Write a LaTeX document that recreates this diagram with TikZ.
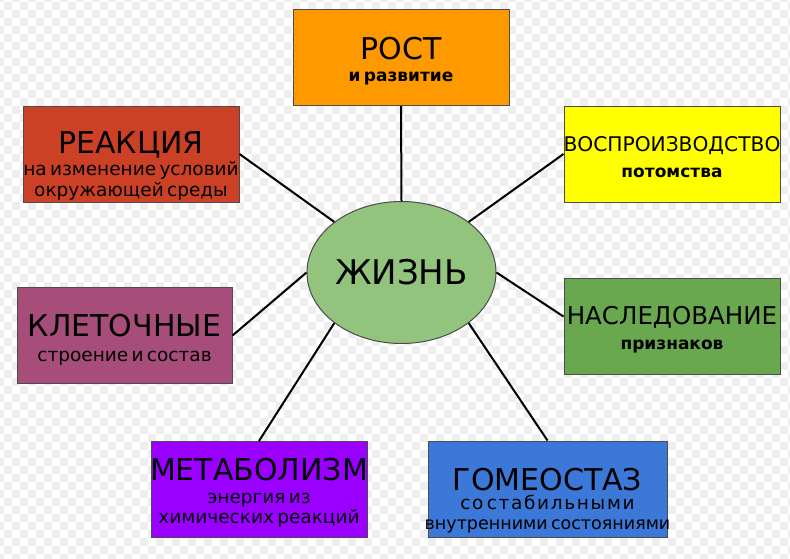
\documentclass[tikz,border=0pt]{standalone}
\usepackage{fontspec}
\setmainfont{DejaVu Sans}
\usetikzlibrary{shapes.geometric}

\definecolor{checkergray}{HTML}{EEEEEE}
\definecolor{lifegreen}{HTML}{93C47D}
\definecolor{growthorange}{HTML}{FF9900}
\definecolor{reactionred}{HTML}{CC4125}
\definecolor{reproductionyellow}{HTML}{FFFF00}
\definecolor{hereditygreen}{HTML}{6AA84F}
\definecolor{cellsmagenta}{HTML}{A64D79}
\definecolor{metabolismviolet}{HTML}{9900FF}
\definecolor{homeostasisblue}{HTML}{3C78D8}

\newcommand{\bigtitle}{\fontsize{30}{32}\selectfont}
\newcommand{\smalltext}{\fontsize{18.5}{21}\selectfont}
\newcommand{\smallbold}{\fontsize{17}{21}\selectfont\bfseries}
\newcommand{\wideline}[1]{\makebox[0pt]{#1}}

\begin{document}
\begin{tikzpicture}[x=1pt, y=-1pt]
    \tikzstyle{trait box} = [rectangle,draw=black!70,line width=1pt,inner sep=0pt,minimum width=216pt,minimum height=96pt,text width=216pt,align=center]
    \tikzstyle{life ellipse} = [ellipse,draw=black!70,line width=1pt,fill=lifegreen,inner sep=0pt,minimum width=189pt,minimum height=142pt]
    \tikzstyle{trait edge} = [draw=black, line width=2pt]
\useasboundingbox (0,0) rectangle (790,558);
\fill[white] (0,0) rectangle (790,558);
\foreach \row in {0,...,70} {
    \pgfmathsetmacro{\shift}{mod(\row,2)}
    \foreach \col in {0,2,...,98}
        \fill[checkergray] ({-4+8*(\col+\shift)},{-6+8*\row}) rectangle +(8,8);
}
\node[life ellipse] (life) at (401.5, 272.5) {\fontsize{34}{34}\selectfont ЖИЗНЬ};
\node[trait box, fill=growthorange] (growth) at (401, 57.5) {\rule{0pt}{29pt}\bigtitle РОСТ\\[1pt] \smallbold и развитие\par};
\node[trait box, fill=reactionred] (reaction) at (131, 154) {\rule{0pt}{46pt}\bigtitle РЕАКЦИЯ\\[1pt] \smalltext \wideline{на изменение условий}\\ окружающей среды\par};
\node[trait box, fill=reproductionyellow] (reproduction) at (672, 154) {\rule{0pt}{21.6pt}\fontsize{20.2}{24}\selectfont \wideline{ВОСПРОИЗВОДСТВО}\\[5pt] \smallbold потомства\par};
\node[trait box, fill=hereditygreen] (heredity) at (672, 326) {\rule{0pt}{26pt}\fontsize{24.5}{26}\selectfont \wideline{НАСЛЕДОВАНИЕ}\\[4pt] \smallbold признаков\par};
\node[trait box, fill=cellsmagenta, minimum width=215pt, text width=215pt] (cells) at (124.5, 335.5) {\rule{0pt}{30pt}\bigtitle КЛЕТОЧНЫЕ\\[4pt] \smalltext строение и состав\par};
\node[trait box, fill=metabolismviolet] (metabolism) at (259, 489.5) {\rule{0pt}{29pt}\bigtitle \wideline{МЕТАБОЛИЗМ}\\[2pt] \smalltext энергия из\\[-1pt] химических реакций\par};
\node[trait box, fill=homeostasisblue, minimum width=239pt, text width=239pt] (homeostasis) at (547.5, 489) {\rule{0pt}{46pt}\bigtitle ГОМЕОСТАЗ\\[-2pt] \smalltext {\addfontfeature{LetterSpace=9}со стабильными}\\[-1pt] \fontsize{17.5}{21}\selectfont \wideline{внутренними состояниями}\par};
\draw[trait edge] (growth.south) to (life.north);
\draw[trait edge] (reaction.east) to (life.north west);
\draw[trait edge] (reproduction.west) to (life.north east);
\draw[trait edge] (heredity.175) to (life.east);
\draw[trait edge] (cells.east) to (life.west);
\draw[trait edge] (metabolism.north) to (life.south west);
\draw[trait edge] (homeostasis.north) to (life.south east);
\end{tikzpicture}
\end{document}
